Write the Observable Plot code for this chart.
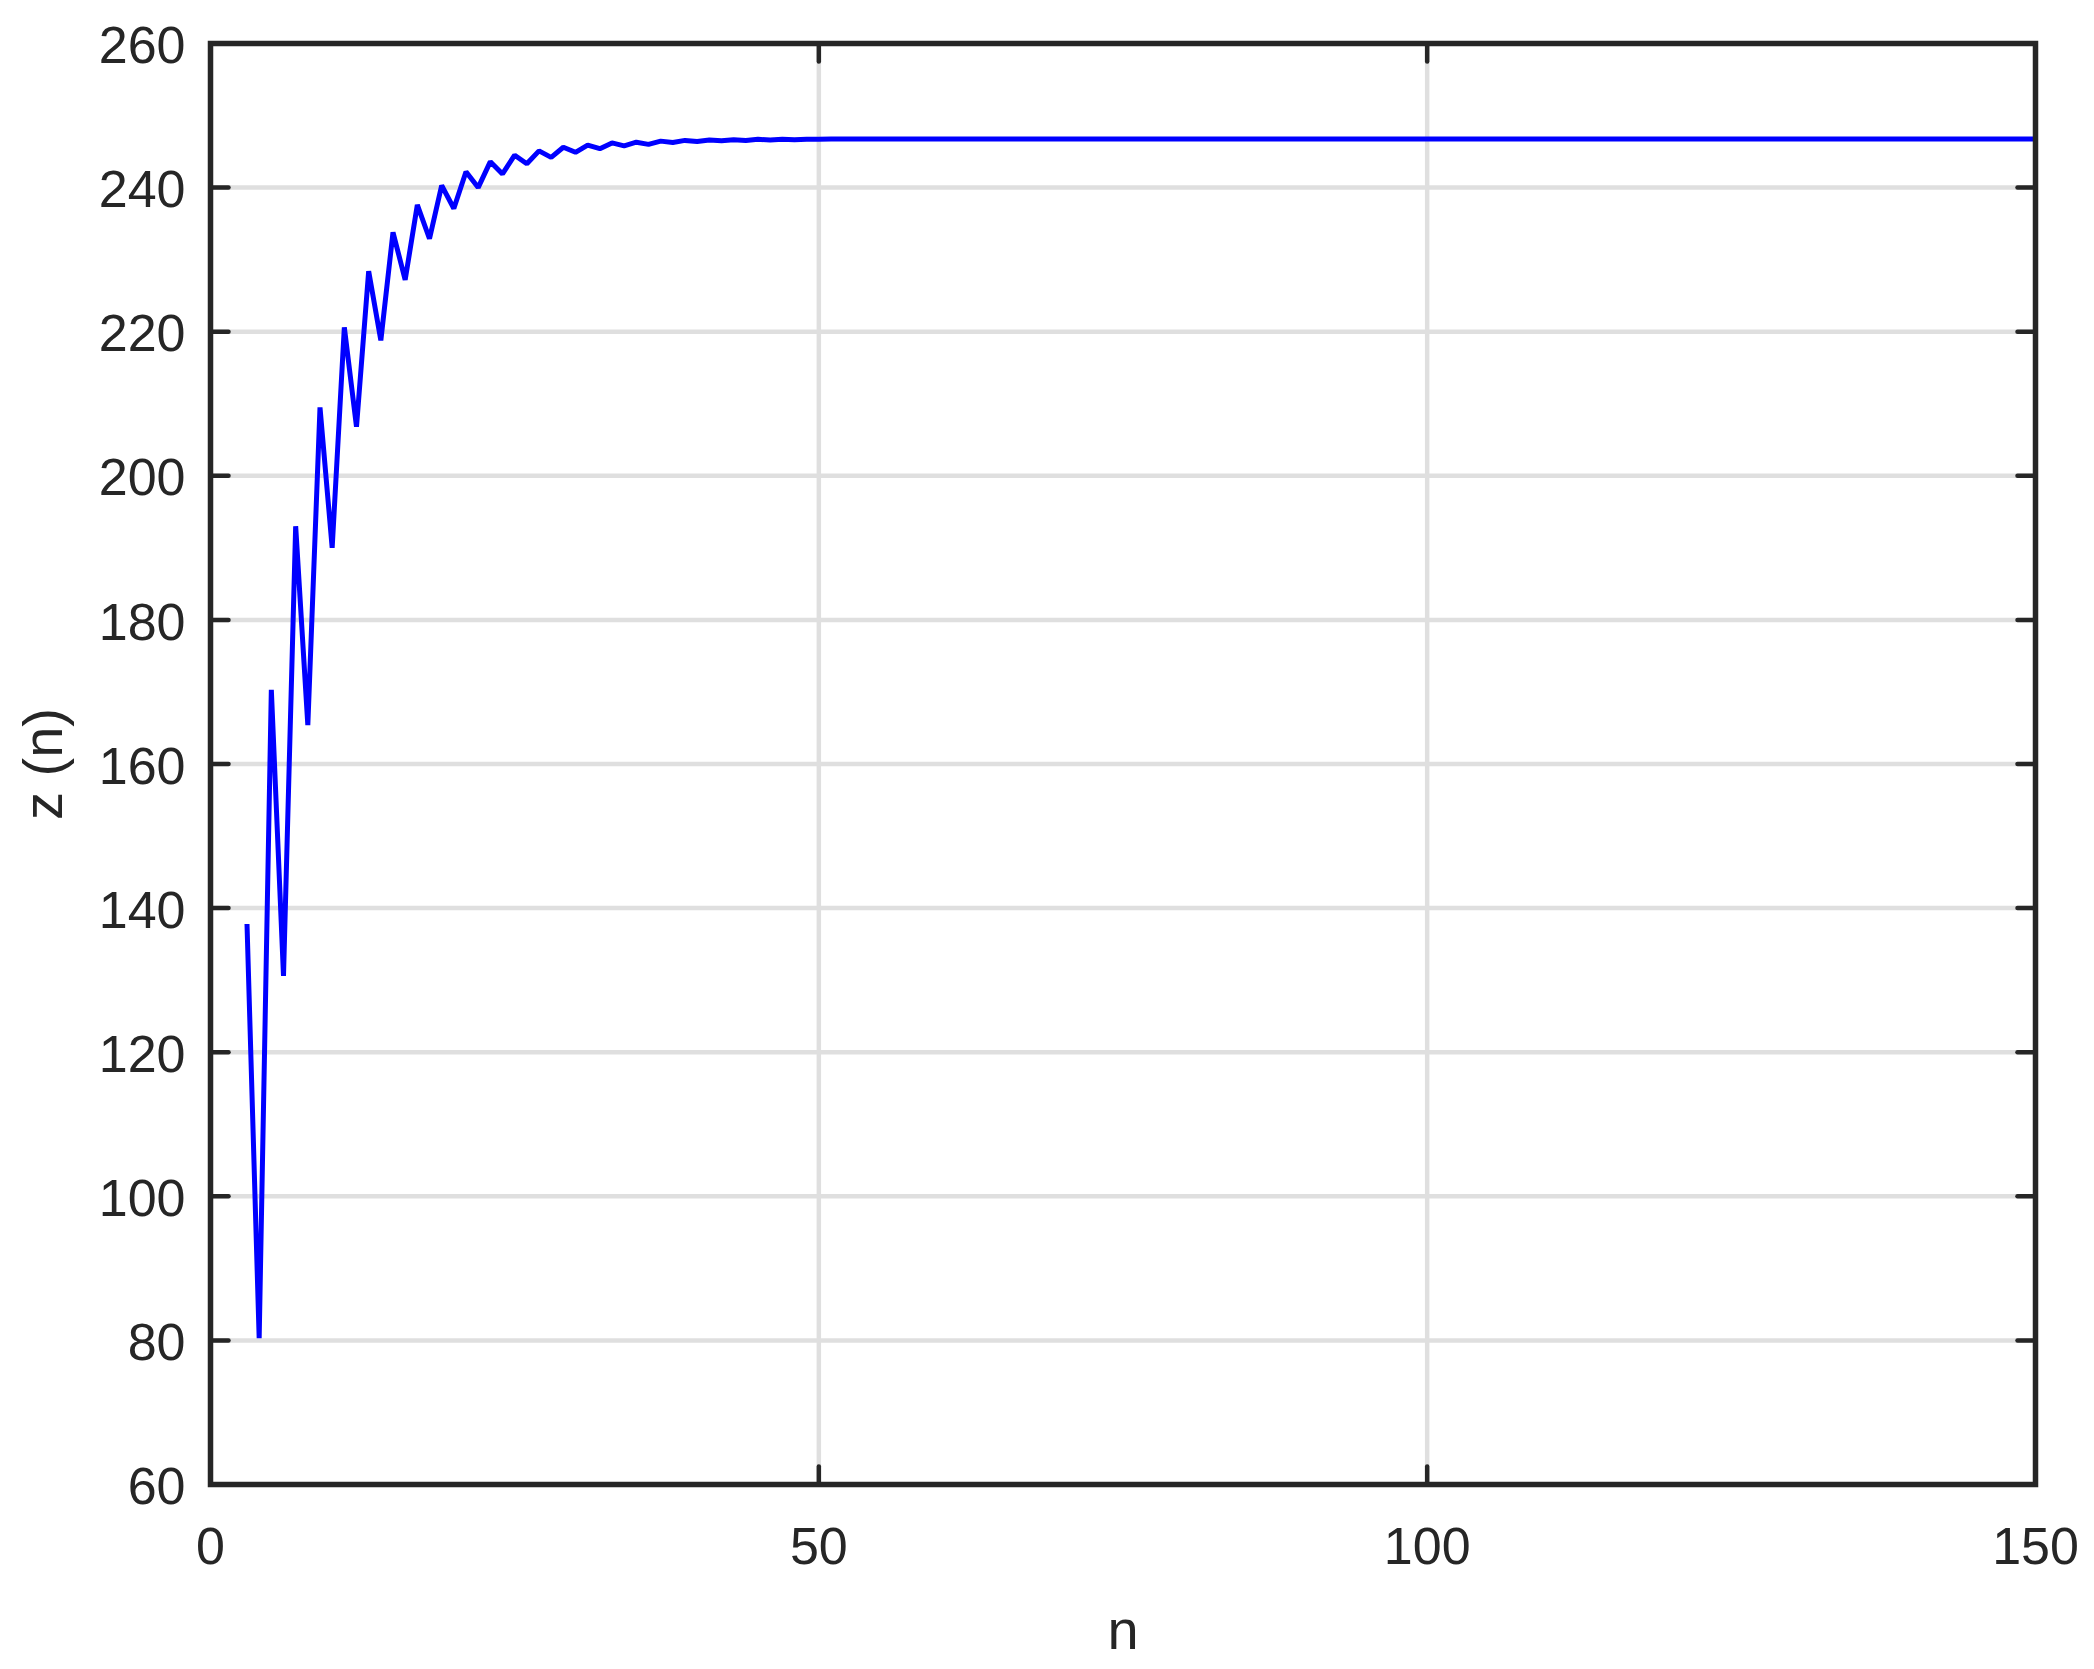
<!DOCTYPE html>
<html>
<head>
<meta charset="utf-8">
<script src="https://cdn.jsdelivr.net/npm/d3@7"></script>
<script src="https://cdn.jsdelivr.net/npm/@observablehq/plot@0.6"></script>
<style>
  html, body { margin: 0; padding: 0; background: #ffffff; }
  svg { display: block; }
</style>
</head>
<body>
<script>
// ---- data ----
const xLabel = "n";
const yLabel = "z (n)";
const xTicks = [0, 50, 100, 150];
const yTicks = [60, 80, 100, 120, 140, 160, 180, 200, 220, 240, 260];
const xDomain = [0, 150];
const yDomain = [60, 260];
const nStart = 3;
// z(n) for n = 3, 4, 5, ... 150
const zValues = [
  137.8, 80.3, 170.3, 130.6, 193.0, 165.4, 209.5, 190.0, 220.6, 206.8,
  228.4, 218.8, 233.8, 227.2, 237.6, 232.9, 240.3, 237.1, 242.2, 240.0,
  243.6, 241.9, 244.5, 243.3, 245.1, 244.2, 245.6, 244.9, 245.9, 245.4,
  246.2, 245.8, 246.3, 246.0, 246.45, 246.25, 246.55, 246.4, 246.6, 246.5,
  246.65, 246.55, 246.7, 246.6, 246.7, 246.65, 246.72, 246.7,
  246.75, 246.75, 246.75, 246.75, 246.75, 246.75, 246.75, 246.75, 246.75, 246.75,
  246.75, 246.75, 246.75, 246.75, 246.75, 246.75, 246.75, 246.75, 246.75, 246.75,
  246.75, 246.75, 246.75, 246.75, 246.75, 246.75, 246.75, 246.75, 246.75, 246.75,
  246.75, 246.75, 246.75, 246.75, 246.75, 246.75, 246.75, 246.75, 246.75, 246.75,
  246.75, 246.75, 246.75, 246.75, 246.75, 246.75, 246.75, 246.75, 246.75, 246.75,
  246.75, 246.75, 246.75, 246.75, 246.75, 246.75, 246.75, 246.75, 246.75, 246.75,
  246.75, 246.75, 246.75, 246.75, 246.75, 246.75, 246.75, 246.75, 246.75, 246.75,
  246.75, 246.75, 246.75, 246.75, 246.75, 246.75, 246.75, 246.75, 246.75, 246.75,
  246.75, 246.75, 246.75, 246.75, 246.75, 246.75, 246.75, 246.75, 246.75, 246.75,
  246.75, 246.75, 246.75, 246.75, 246.75, 246.75, 246.75, 246.75, 246.75, 246.75
];

const data = zValues.map((z, i) => ({n: nStart + i, z}));

const ink = "#262626";
const gridColor = "#dfdfdf";
const tickLen = 18;
const tickShape = {
  draw(context, l) {
    context.moveTo(0, 0);
    context.lineTo(0, -l);
  }
};
const tickStyle = {length: tickLen, anchor: "start", shape: tickShape, stroke: ink, strokeWidth: 4.5};

const chart = Plot.plot({
  width: 2094,
  height: 1669,
  marginLeft: 210,
  marginRight: 59,
  marginTop: 43,
  marginBottom: 185,
  style: {
    fontFamily: "'Liberation Sans', Arial, Helvetica, sans-serif",
    color: ink,
    background: "#ffffff",
    overflow: "visible"
  },
  x: {domain: xDomain, ticks: xTicks},
  y: {domain: yDomain, ticks: yTicks},
  marks: [
    Plot.gridX(xTicks, {stroke: gridColor, strokeOpacity: 1, strokeWidth: 4.5}),
    Plot.gridY(yTicks, {stroke: gridColor, strokeOpacity: 1, strokeWidth: 4.5}),
    Plot.line(data, {x: "n", y: "z", stroke: "#0000ff", strokeWidth: 5, strokeLinejoin: "miter", strokeLinecap: "butt"}),
    // inward ticks on all four sides
    Plot.vector(yTicks, {x: () => xDomain[0], y: d => d, rotate: 90, ...tickStyle}),
    Plot.vector(yTicks, {x: () => xDomain[1], y: d => d, rotate: 270, ...tickStyle}),
    Plot.vector(xTicks, {x: d => d, y: () => yDomain[0], rotate: 0, ...tickStyle}),
    Plot.vector(xTicks, {x: d => d, y: () => yDomain[1], rotate: 180, ...tickStyle}),
    Plot.frame({stroke: ink, strokeWidth: 5.5}),
    Plot.axisY(yTicks, {anchor: "left", tickSize: 0, tickPadding: 25, fontSize: 52, label: null, dy: 3, tickFormat: d => String(d)}),
    Plot.axisX(xTicks, {anchor: "bottom", tickSize: 0, tickPadding: 43, fontSize: 52, label: null, tickFormat: d => String(d)}),
    Plot.text([xLabel], {text: d => d, frameAnchor: "bottom", dy: 147, fontSize: 56, lineAnchor: "middle", textAnchor: "middle", fill: ink}),
    Plot.text([yLabel], {text: d => d, frameAnchor: "left", dx: -166, rotate: -90, fontSize: 56, lineAnchor: "middle", textAnchor: "middle", fill: ink})
  ]
});

document.body.appendChild(chart);
</script>
</body>
</html>
